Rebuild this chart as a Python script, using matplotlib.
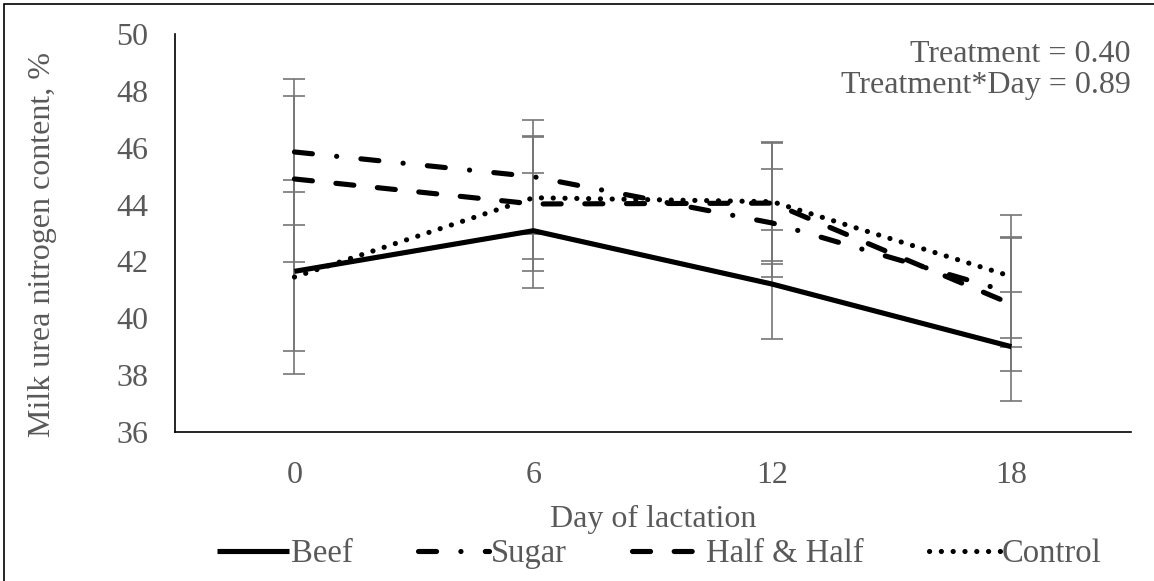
import matplotlib.pyplot as plt
from matplotlib.patches import Rectangle

# milk urea nitrogen by day of lactation, mean +/- SE per treatment
days = ['0', '6', '12', '18']

beef = [41.65, 43.08, 41.2, 39.0]
beef_se = [2.8, 2.03, 1.92, 1.92]

sugar = [45.85, 44.98, 43.35, 40.9]
sugar_se = [2.57, 2.0, 1.9, 1.92]

half = [44.9, 44.02, 44.05, 40.5]
half_se = [2.92, 2.36, 2.15, 2.35]

control = [41.45, 44.24, 44.1, 41.47]
control_se = [3.4, 2.17, 2.08, 2.17]

stats_lines = ['Treatment = 0.40', 'Treatment*Day = 0.89']

grey = '#595959'
plt.rcParams['font.family'] = ['Liberation Serif', 'DejaVu Serif']
plt.rcParams['lines.scale_dashes'] = False

fig = plt.figure(figsize=(11.54, 5.81), dpi=100)
ax = fig.add_axes([0.1516, 0.2565, 0.8284, 0.685])

x = list(range(len(days)))
series = [
  ('Beef', beef, beef_se, '-'),
  ('Sugar', sugar, sugar_se, (0, (13, 17.5, 0.1, 17.5))),
  ('Half & Half', half, half_se, (0, (13, 17))),
  ('Control', control, control_se, (0, (0.1, 8.4))),
]

handles = []
for name, vals, se, ls in series:
  ax.errorbar(x, vals, yerr=se, fmt='none', ecolor='#767676',
              elinewidth=1.2, capsize=8, capthick=1.2, zorder=2)
  ln, = ax.plot(x, vals, color='black', lw=3.7, linestyle=ls,
                dash_capstyle='round', solid_capstyle='butt',
                solid_joinstyle='miter', label=name, zorder=3)
  handles.append(ln)

ax.set_xlim(-0.5, 3.5)
ax.set_ylim(36, 50)
ax.set_xticks(x)
ax.set_xticklabels(days)
ax.set_yticks(range(36, 51, 2))
ax.tick_params(length=0, labelsize=23, labelcolor=grey)
ax.tick_params(axis='x', pad=21)
ax.tick_params(axis='y', pad=19)
for s in ['top', 'right']:
  ax.spines[s].set_visible(False)
for s in ['left', 'bottom']:
  ax.spines[s].set_color('black')
  ax.spines[s].set_linewidth(1.2)

ax.set_xlabel('Day of lactation', fontsize=23, color=grey, labelpad=11)
ax.set_ylabel('Milk urea nitrogen content, %', fontsize=23, color=grey)
ax.yaxis.set_label_coords(-0.123, 0.472)

ax.text(1.0, 0.985, '\n'.join(stats_lines), transform=ax.transAxes,
        ha='right', va='top', fontsize=23, color=grey, linespacing=1.1)

fig.legend(handles=handles, loc='center', bbox_to_anchor=(0.5715, 1 - 554 / 581),
           ncol=4, frameon=False, fontsize=23.5, labelcolor=grey,
           handlelength=2.2, handletextpad=0.05, columnspacing=2.0)

# outer chart border
fig.patches.append(Rectangle((4 / 1154, -0.05), 1.1, 1.05 - 4 / 581,
                             transform=fig.transFigure, fill=False,
                             edgecolor='black', lw=1.2))

fig.savefig('out.png', dpi=100)
